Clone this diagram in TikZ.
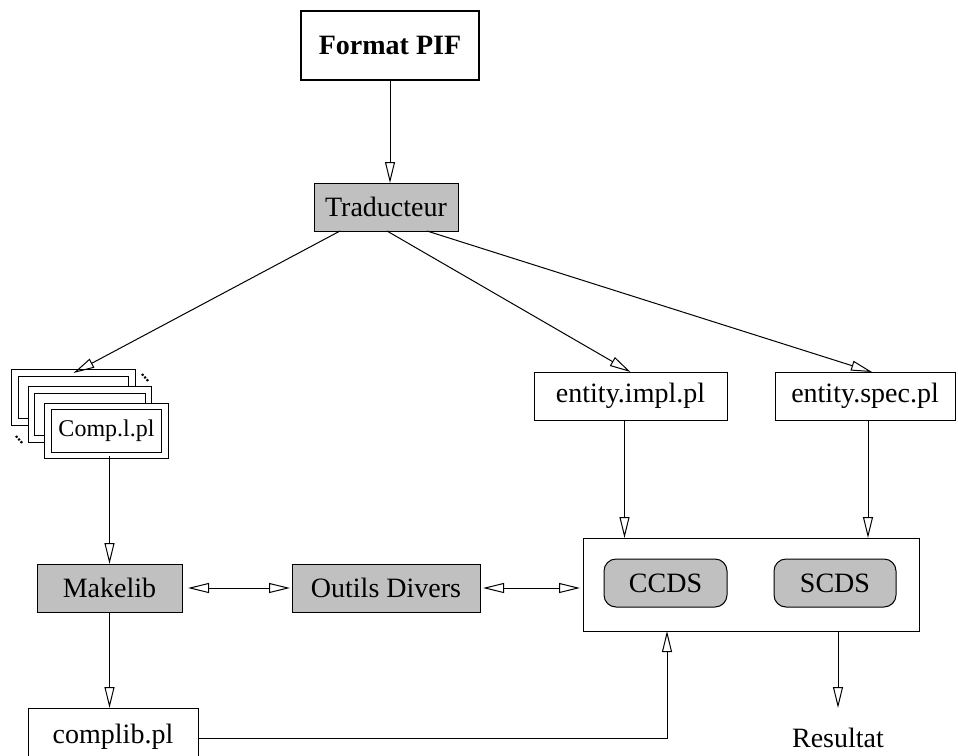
\documentclass[tikz,border=0pt]{standalone}
\usepackage{fontspec}
\setmainfont{Liberation Serif}
\usetikzlibrary{arrows.meta,calc}
\definecolor{boxgray}{RGB}{192,192,192}
\tikzset{
  every node/.style={font=\fontsize{28}{32}\selectfont, inner sep=0pt, outer sep=0pt},
  plainbox/.style={draw, line width=1pt, fill=white},
  toolbox/.style={draw, line width=1pt, fill=boxgray},
  docbox/.style={draw, line width=1pt, fill=white, double=white, double distance=5.5pt,
                 minimum width=117pt, minimum height=49pt},
  compbox/.style={toolbox, rounded corners=12pt},
  arr/.style={line width=1pt, -{Triangle[open,length=21pt,width=10pt]}},
  darr/.style={line width=1pt, {Triangle[open,length=21pt,width=10pt]}-{Triangle[open,length=21pt,width=10pt]}},
  etc/.style={line width=2.2pt, dash pattern=on 2pt off 1.6pt}
}
\begin{document}
\begin{tikzpicture}[x=1pt, y=-1pt]
\useasboundingbox (0,0) rectangle (958,755);
\clip (0,0) rectangle (958,755);

% source and translator
\node[plainbox, line width=2.5pt, minimum width=178pt, minimum height=69pt,
      font=\fontsize{28}{32}\selectfont\bfseries] (pif) at (390,45.5) {Format PIF};
\node[toolbox, minimum width=144pt, minimum height=48pt] (trad) at (386,207) {Traducteur};

% stack of component files
\node[docbox] (comp1) at (73.5,397.5) {};
\node[docbox] (comp2) at (90,414.5) {};
\node[docbox, font=\fontsize{24}{28}\selectfont] (comp3) at (106.5,431) {Comp.l.pl};
\coordinate (etcA) at (142,374);
\coordinate (etcB) at (149,382);
\coordinate (etcC) at (16,436);
\coordinate (etcD) at (23,444);
\draw[etc] (etcA) -- (etcB);
\draw[etc] (etcC) -- (etcD);

% entity files
\node[plainbox, minimum width=193pt, minimum height=48pt] (impl) at (630.5,396) {entity.impl.pl};
\node[plainbox, minimum width=180pt, minimum height=48pt] (spec) at (865,396) {entity.spec.pl};

% tools row
\node[toolbox, minimum width=145pt, minimum height=48pt] (makelib) at (109.5,588) {Makelib};
\node[toolbox, minimum width=188pt, minimum height=48pt] (outils) at (386,588) {Outils Divers};

% checking environment
\node[plainbox, minimum width=336pt, minimum height=93pt] (big) at (751,584.5) {};
\node[compbox, minimum width=123pt, minimum height=48pt] (ccds) at (665.5,583) {CCDS};
\node[compbox, minimum width=122pt, minimum height=48pt] (scds) at (835,583) {SCDS};

% outputs
\node[plainbox, minimum width=170pt, minimum height=57pt] (complib) at (113,736.5) {complib.pl};
\node[minimum height=60pt] (res) at (838,738) {Resultat};

% connectors
\draw[arr] (pif.south) -- (pif.south |- trad.north);
\draw[arr] ([xshift=-46pt]trad.south) -- (comp1.north);
\draw[arr] ([xshift=1pt]trad.south) -- (impl.north);
\draw[arr] ([xshift=41pt]trad.south) -- ([xshift=7pt]spec.north);
\draw[arr] ([xshift=-6pt]impl.south) -- ([xshift=-6pt]impl.south |- big.north);
\draw[arr] ([xshift=3pt]spec.south) -- ([xshift=3pt]spec.south |- big.north);
\draw[arr] (makelib.south |- comp3.south) -- (makelib.north);
\draw[darr, shorten <=6pt, shorten >=2pt] (makelib.east) -- (outils.west);
\draw[darr, shorten <=3pt, shorten >=3pt] (outils.east) -- (outils.east -| big.west);
\draw[arr] (makelib.south) -- (makelib.south |- complib.north);
\draw[arr] ([yshift=-2pt]complib.east) -| ([xshift=-84pt]big.south);
\draw[arr] (big.south -| res.north) -- (res.north);
\end{tikzpicture}
\end{document}
